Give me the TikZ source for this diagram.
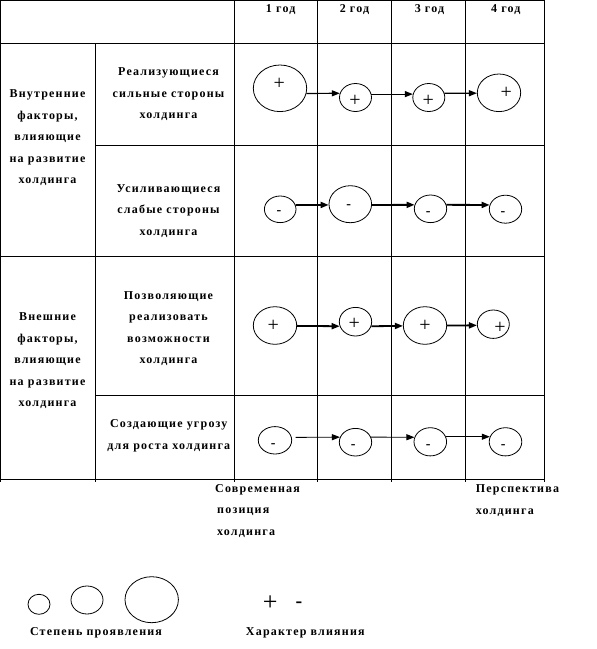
\documentclass[tikz,border=0pt]{standalone}
\usepackage{fontspec}
\setmainfont{Liberation Serif}
\newfontfamily\lbl[LetterSpace=10]{Liberation Serif}
\usetikzlibrary{shapes.geometric,arrows.meta}
\begin{document}
\begin{tikzpicture}[x=1pt,y=-1pt,
 grid/.style={line width=0.9pt},
 oval/.style={draw, ellipse, inner sep=0pt, line width=0.8pt},
 txt/.style={font=\lbl\bfseries\fontsize{12}{21.5}\selectfont, align=center, inner sep=0pt},
 txtl/.style={font=\lbl\bfseries\fontsize{12}{21.5}\selectfont, align=left, inner sep=0pt, anchor=west},
 plus/.style={font=\fontsize{20}{20}\selectfont, inner sep=0pt, yshift=-1pt},
 minus/.style={font=\bfseries\fontsize{14}{14}\selectfont, inner sep=0pt, yshift=-2pt},
 arr/.style={-{Triangle[length=8pt,width=6pt]}, line width=1.4pt}
]
\useasboundingbox (0,0) rectangle (597,649);
% table
\draw[grid] (0.5,0.5) rectangle (544,479.3);
\draw[grid] (0,43.3) -- (544,43.3);
\draw[grid] (95,145.7) -- (544,145.7);
\draw[grid] (0,256.3) -- (544,256.3);
\draw[grid] (95,395.7) -- (544,395.7);
\draw[grid] (95,43.3) -- (95,481.5);
\foreach \xx in {234.7,317,391.7,465.7,544} \draw[grid] (\xx,0) -- (\xx,481.5);
\draw[grid] (0.5,479) -- (0.5,481.5);
% headers
\node[txt] (y1) at (280.7,10) {1 год};
\node[txt] (y2) at (354.5,10) {2 год};
\node[txt] (y3) at (429.5,10) {3 год};
\node[txt] (y4) at (505.8,10) {4 год};
% row labels
\node[txt] (int) at (47.5,137.7) {Внутренние\\факторы,\\влияющие\\на развитие\\холдинга};
\node[txt] (ext) at (47.5,360.8) {Внешние\\факторы,\\влияющие\\на развитие\\холдинга};
\node[txt] (r1) at (168.5,94.5) {Реализующиеся\\сильные стороны\\холдинга};
\node[txt] (r2) at (168.5,210.7) {Усиливающиеся\\слабые стороны\\холдинга};
\node[txt] (r3) at (168.5,328.6) {Позволяющие\\реализовать\\возможности\\холдинга};
\node[txt] (r4) at (168.8,435.8) {Создающие угрозу\\для роста холдинга};
% row 1
\node[oval, minimum width=53.4pt, minimum height=46.6pt] (e1) at (280,88.3) {};
\node[oval, minimum width=32pt, minimum height=28pt] (e2) at (355.5,97.5) {};
\node[oval, minimum width=32pt, minimum height=28pt] (e3) at (428.8,97.5) {};
\node[oval, minimum width=43.4pt, minimum height=37.6pt] (e4) at (499,92.8) {};
\node[plus] (se1) at (279.3,83.3) {+};
\node[plus] (se2) at (355,100) {+};
\node[plus] (se3) at (428.3,100) {+};
\node[plus] (se4) at (506.3,92) {+};
\draw[arr, line width=1.2pt] (e1.-11) -- (e2.165);
\draw[arr, line width=1.2pt] (e2.12) -- (e3.168);
\draw[arr, line width=1.2pt] (e3.15) -- (e4.181);
% row 2
\node[oval, minimum width=31.6pt, minimum height=26.6pt] (f1) at (280.2,209.3) {};
\node[oval, minimum width=42.6pt, minimum height=37pt] (f2) at (350.3,204.2) {};
\node[oval, minimum width=32.4pt, minimum height=27.6pt] (f3) at (430.5,208.8) {};
\node[oval, minimum width=32.4pt, minimum height=28pt] (f4) at (505.5,209.2) {};
\node[minus] (sf1) at (279,211) {-};
\node[minus] (sf2) at (348.7,204.7) {-};
\node[minus] (sf3) at (428.3,212) {-};
\node[minus] (sf4) at (503,212) {-};
\draw[arr, line width=1.8pt] (f1.16) -- (f2.182);
\draw[arr, line width=1.8pt] (f2.-2) -- (f3.166);
\draw[arr, line width=1.8pt] (f3.14) -- (f4.165);
% row 3
\node[oval, minimum width=43.4pt, minimum height=37.6pt] (g1) at (275,325.5) {};
\node[oval, minimum width=32.4pt, minimum height=28.6pt] (g2) at (355.5,321.7) {};
\node[oval, minimum width=43.4pt, minimum height=37.6pt] (g3) at (425,325.5) {};
\node[oval, minimum width=32pt, minimum height=28.4pt] (g4) at (493.3,324.2) {};
\node[plus] (sg1) at (273.3,325) {+};
\node[plus] (sg2) at (354.3,323.3) {+};
\node[plus] (sg3) at (425,325) {+};
\node[plus] (sg4) at (500,326.7) {+};
\draw[arr, line width=1.8pt] (g1.-1) -- (g2.196);
\draw[arr, line width=1.8pt] (g2.-16) -- (g3.181);
\draw[arr, line width=1.8pt] (g3.0) -- (g4.184);
% row 4
\node[oval, minimum width=33.4pt, minimum height=27.4pt] (h1) at (275,440.3) {};
\node[oval, minimum width=32.4pt, minimum height=27.6pt] (h2) at (355.5,442.2) {};
\node[oval, minimum width=32.6pt, minimum height=28.2pt] (h3) at (430.3,441.8) {};
\node[oval, minimum width=32.6pt, minimum height=28.2pt] (h4) at (505.5,441.8) {};
\node[minus] (sh1) at (273.3,443.3) {-};
\node[minus] (sh2) at (353.3,445) {-};
\node[minus] (sh3) at (428.3,445) {-};
\node[minus] (sh4) at (503.3,445) {-};
\draw[arr, line width=0.9pt, shorten <=4pt] (h1.10) -- (h2.162);
\draw[arr, line width=0.9pt] (h2.18) -- (h3.164);
\draw[arr, line width=0.9pt] (h3.18) -- (h4.162);
% below table
\node[txtl] (cur) at (215,511) {Современная\\\hspace{2pt}позиция\\\hspace{2pt}холдинга};
\node[txtl] (per) at (475.7,500.5) {Перспектива\\холдинга};
% legend
\node[oval, minimum width=22pt, minimum height=20pt] (l1) at (39,604.3) {};
\node[oval, minimum width=32pt, minimum height=28pt] (l2) at (87,600) {};
\node[oval, minimum width=53.4pt, minimum height=46pt] (l3) at (151.7,599.7) {};
\node[txt] (lt1) at (96,632.3) {Степень проявления};
\node[font=\fontsize{26}{26}\selectfont, inner sep=0pt, yshift=-1pt] (lp) at (270.3,601.7) {+};
\node[font=\bfseries\fontsize{20}{20}\selectfont, inner sep=0pt, yshift=-3pt] (lm) at (299,601.7) {-};
\node[txt] (lt2) at (305.3,632.7) {Характер влияния};
\end{tikzpicture}
\end{document}
